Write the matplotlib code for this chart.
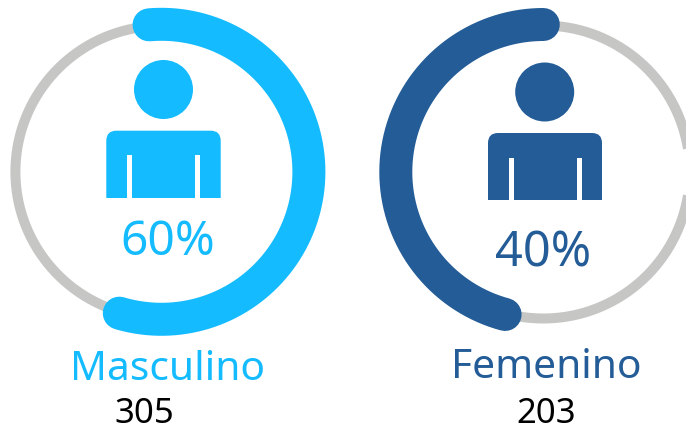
import matplotlib.pyplot as plt
import numpy as np
from matplotlib.patches import Circle, PathPatch, Rectangle
from matplotlib.path import Path

plt.rcParams['font.family'] = ['Noto Sans', 'DejaVu Sans']

# values
labels = ["Masculino", "Femenino"]
counts = [305, 203]
percents = [60, 40]
colors = ["#14BBFF", "#235C96"]
# arc ends, degrees clockwise from the top of the ring
arc_start = [-4.8, -165.0]
arc_end = [196.6, 0.0]

# layout in pixels
ring_x = [161.4, 543.3]
ring_y = [172.8, 173.0]
head_y = [90.5, 93.0]
head_x = [163.5, 544.7]
body_left = [106.3, 488.0]
body_right = [220.7, 602.0]
body_top = [131.7, 134.0]
body_bottom = [199.0, 201.0]
slot_left = [(127.0, 195.0), (508.7, 576.5)]
pct_pos = [(167.5, 255.0), (543.0, 266.7)]
pct_size = [34.5, 35]
label_pos = [(167.0, 380.0), (546.7, 378.0)]
count_pos = [(144.5, 423.5), (545.7, 423.5)]

GREY = "#C6C6C4"
R_GREY = [146.0, 146.5]
R_ARC = 147.5
W, H = 686, 427


def ring_xy(cx, cy, r, a0, a1):
    t = np.radians(np.linspace(a0, a1, 300))
    return cx + r * np.sin(t), cy - r * np.cos(t)


def body_path(x0, x1, y0, y1, r=10):
    verts = [(x0, y1), (x0, y0 + r), (x0, y0), (x0 + r, y0),
             (x1 - r, y0), (x1, y0), (x1, y0 + r), (x1, y1), (x0, y1)]
    codes = [Path.MOVETO, Path.LINETO, Path.CURVE3, Path.CURVE3,
             Path.LINETO, Path.CURVE3, Path.CURVE3, Path.LINETO, Path.CLOSEPOLY]
    return Path(verts, codes)


fig = plt.figure(figsize=(W / 100, H / 100), dpi=100)
ax = fig.add_axes([0, 0, 1, 1])
ax.set_xlim(0, W)
ax.set_ylim(H, 0)
ax.axis('off')

px = 72 / 100  # one pixel in points

for i in range(2):
    cx, cy = ring_x[i], ring_y[i]

    # grey ring, then the coloured arc on top
    x, y = ring_xy(cx, cy, R_GREY[i], 0, 360)
    ax.plot(x, y, color=GREY, lw=10 * px, zorder=1)
    x, y = ring_xy(cx, cy, R_ARC, arc_start[i], arc_end[i])
    ax.plot(x, y, color=colors[i], lw=33 * px, solid_capstyle='round', zorder=2)

    # person icon
    ax.add_patch(Circle((head_x[i], head_y[i]), 29.5, color=colors[i], lw=0, zorder=3))
    ax.add_patch(PathPatch(body_path(body_left[i], body_right[i], body_top[i], body_bottom[i]),
                           facecolor=colors[i], lw=0, zorder=3))
    for sx in slot_left[i]:
        slot_top = body_top[i] + 24.5
        ax.add_patch(Rectangle((sx, slot_top), 5, body_bottom[i] - slot_top + 1,
                               facecolor='white', lw=0, zorder=4))

    ax.text(*pct_pos[i], f"{percents[i]}%", color=colors[i], fontsize=pct_size[i],
            ha='center', va='baseline', zorder=5)
    ax.text(*label_pos[i], labels[i], color=colors[i], fontsize=29.3,
            ha='center', va='baseline', zorder=5)
    ax.text(*count_pos[i], str(counts[i]), color='black', fontsize=25,
            ha='center', va='baseline', zorder=5)

fig.savefig("out.png", dpi=100)
